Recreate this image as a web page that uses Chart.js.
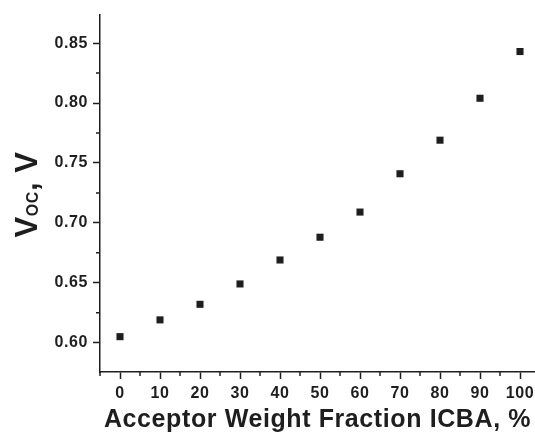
<!DOCTYPE html>
<html>
<head>
<meta charset="utf-8">
<script src="https://cdn.jsdelivr.net/npm/chart.js@4"></script>
<style>
  html, body { margin: 0; padding: 0; background: #fff; }
  #wrap { width: 535px; height: 435px; }
</style>
</head>
<body>
<div id="wrap"><canvas id="chart"></canvas></div>
<script>
// ICBA fraction (%) vs open-circuit voltage (V)
const fractions = [0, 10, 20, 30, 40, 50, 60, 70, 80, 90, 100];
const vocValues = [0.605, 0.619, 0.632, 0.649, 0.669, 0.688, 0.709, 0.741, 0.769, 0.804, 0.843];

const xTicks = [0, 10, 20, 30, 40, 50, 60, 70, 80, 90, 100];
const xMinorTicks = [-5, 5, 15, 25, 35, 45, 55, 65, 75, 85, 95];
const yTicks = [0.60, 0.65, 0.70, 0.75, 0.80, 0.85];
const yMinorTicks = [0.625, 0.675, 0.725, 0.775, 0.825];

const ink = '#1e1e1e';
const font = 'Liberation Sans, Arial, sans-serif';

// the print font is a little wider than Liberation, so space the letters out
const spacing = {
  id: 'spacing',
  beforeUpdate(chart) { chart.ctx.letterSpacing = '0.6px'; },
  beforeDraw(chart) { chart.ctx.letterSpacing = '0.6px'; }
};

// short minor ticks + the V_OC title (needs a subscript)
const extras = {
  id: 'extras',
  afterDraw(chart) {
    const ctx = chart.ctx;
    const x = chart.scales.x, y = chart.scales.y;
    ctx.save();
    ctx.strokeStyle = ink;
    ctx.lineWidth = 1.5;
    ctx.beginPath();
    xMinorTicks.forEach(v => {
      if (v < x.min || v > x.max) return;
      const px = x.getPixelForValue(v);
      ctx.moveTo(px, x.top);
      ctx.lineTo(px, x.top + 4);
    });
    yMinorTicks.forEach(v => {
      if (v < y.min || v > y.max) return;
      const py = y.getPixelForValue(v);
      ctx.moveTo(y.right, py);
      ctx.lineTo(y.right - 4, py);
    });
    ctx.stroke();

    // rotated y title: V_OC, V
    const cy = (chart.chartArea.top + chart.chartArea.bottom) / 2 + 1;
    ctx.translate(37, cy);
    ctx.rotate(-Math.PI / 2);
    ctx.fillStyle = ink;
    ctx.textBaseline = 'alphabetic';
    const big = 'bold 31px ' + font, small = 'bold 16px ' + font;
    ctx.font = big;
    const wV = ctx.measureText('V').width, wT = ctx.measureText(', V').width;
    ctx.font = small;
    const wS = ctx.measureText('OC').width;
    let px = -(wV + wS + wT) / 2;
    ctx.font = big;
    ctx.fillText('V', px, 0);
    px += wV;
    ctx.font = small;
    ctx.fillText('OC', px, 1);
    px += wS;
    ctx.font = big;
    ctx.fillText(', V', px, 0);
    ctx.restore();
  }
};

new Chart(document.getElementById('chart'), {
  type: 'scatter',
  data: {
    datasets: [{
      data: fractions.map((f, i) => ({ x: f, y: vocValues[i] })),
      pointStyle: 'rect',
      pointRadius: 5,
      pointHoverRadius: 5,
      backgroundColor: ink,
      borderColor: ink,
      borderWidth: 0
    }]
  },
  options: {
    responsive: true,
    maintainAspectRatio: false,
    devicePixelRatio: 1,
    animation: false,
    layout: { autoPadding: false, padding: { left: 0, top: 15, right: 0, bottom: 0 } },
    plugins: { legend: { display: false }, tooltip: { enabled: false } },
    scales: {
      x: {
        type: 'linear',
        min: -5,
        max: 103.75,
        afterBuildTicks: s => { s.ticks = xTicks.map(v => ({ value: v })); },
        afterFit: s => { s.height = 63; s.paddingRight = 0; s.paddingLeft = 0; },
        border: { color: ink, width: 1.5 },
        grid: { drawOnChartArea: false, tickLength: 7, tickColor: ink, tickWidth: 1.5 },
        ticks: {
          color: ink,
          font: { family: font, size: 16, weight: 'bold' },
          padding: 5,
          maxRotation: 0,
          autoSkip: false
        },
        title: {
          display: true,
          text: 'Acceptor Weight Fraction ICBA, %',
          color: ink,
          font: { family: font, size: 25, weight: 'bold' },
          padding: { top: 0, bottom: 0 }
        }
      },
      y: {
        type: 'linear',
        min: 0.5755,
        max: 0.8735,
        afterBuildTicks: s => { s.ticks = yTicks.map(v => ({ value: v })); },
        afterFit: s => { s.width = 100; },
        border: { color: ink, width: 1.5 },
        grid: { drawOnChartArea: false, tickLength: 7, tickColor: ink, tickWidth: 1.5 },
        ticks: {
          color: ink,
          font: { family: font, size: 16, weight: 'bold' },
          padding: 5,
          callback: v => v.toFixed(2)
        }
      }
    }
  },
  plugins: [spacing, extras]
});
</script>
</body>
</html>
